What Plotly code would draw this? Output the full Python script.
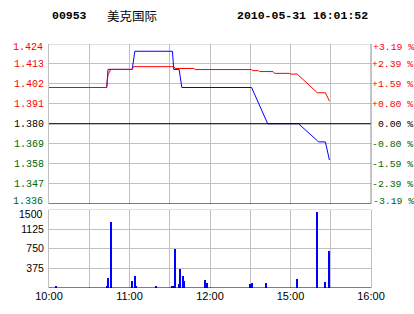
import plotly.graph_objects as go

# ---- data ----
price_ticks = [1.424, 1.413, 1.402, 1.391, 1.380, 1.369, 1.358, 1.347, 1.336]
prev_close = 1.380
pct_labels = ["+3.19 %", "+2.39 %", "+1.59 %", "+0.80 %", "\u00a00.00 %",
              "-0.80 %", "-1.59 %", "-2.39 %", "-3.19 %"]

# minutes after 10:00 (trading-time axis; 12:30 joins 14:30)
time_tickvals = [0, 30, 60, 90, 120, 150, 180, 210, 240]
time_ticktext = ["10:00", "", "11:00", "", "12:00", "", "15:00", "", "16:00"]

price_t = [0, 43, 44, 62, 64, 92, 93, 97, 99, 151, 163, 186, 201, 206, 209]
price_v = [1.400, 1.400, 1.410, 1.410, 1.420, 1.420, 1.410, 1.410, 1.400,
           1.400, 1.380, 1.380, 1.370, 1.370, 1.360]

avg_t = [0, 43, 44, 46, 62, 63, 93, 94, 108, 109, 151, 152, 156, 157, 167,
         168, 179, 180, 185, 200, 206, 209]
avg_v = [1.400, 1.400, 1.407, 1.410, 1.410, 1.4115, 1.4115, 1.4105, 1.4105,
         1.4099, 1.4099, 1.4093, 1.4093, 1.4088, 1.4088, 1.4078, 1.4078,
         1.4074, 1.4074, 1.3971, 1.3971, 1.3925]

vol_t = [5, 43, 44, 46, 62, 64, 65, 80, 92, 93, 94, 97, 98, 100, 101, 116,
         118, 150, 151, 162, 185, 200, 206, 209]
vol_v = [57, 57, 210, 1263, 134, 230, 57, 57, 57, 57, 753, 77, 364, 230, 134,
         153, 96, 77, 96, 96, 191, 1461, 115, 708]
vol_ticks = [375, 750, 1125, 1500]

code = "00953"
name = "美克国际"
stamp = "2010-05-31 16:01:52"

# ---- styling ----
RED = "#FF0000"
GREEN = "#006600"
GRID = "#C0C0C0"
MONO = "Liberation Mono"
SANS = "Liberation Sans"


def col_for(p):
    if p > prev_close + 1e-9:
        return RED
    if p < prev_close - 1e-9:
        return GREEN
    return "#000000"


p_lo, p_hi = min(price_ticks), max(price_ticks)
v_hi = max(vol_ticks)

# edge labels are drawn as annotations (nudged inward like the original)
left_text = ['' if p in (p_lo, p_hi) else
             '<span style="color:%s">%.3f</span>' % (col_for(p), p) for p in price_ticks]
right_text = ['' if p in (p_lo, p_hi) else
              '<span style="color:%s">%s</span>' % (col_for(p), s)
              for p, s in zip(price_ticks, pct_labels)]
vol_text = ['' if v == v_hi else str(v) for v in vol_ticks]

fig = go.Figure()

fig.add_trace(go.Bar(x=vol_t, y=vol_v, width=0.8, xaxis="x", yaxis="y",
                     marker=dict(color="#0000FF", line=dict(width=0)),
                     showlegend=False))
fig.add_trace(go.Scatter(x=price_t, y=price_v, mode="lines", xaxis="x2", yaxis="y2",
                         line=dict(color="#0000FF", width=1), showlegend=False))
fig.add_trace(go.Scatter(x=avg_t, y=avg_v, mode="lines", xaxis="x2", yaxis="y2",
                         line=dict(color=RED, width=1), showlegend=False))
# invisible trace to activate right axis
fig.add_trace(go.Scatter(x=[0], y=[prev_close], mode="markers", xaxis="x2", yaxis="y3",
                         marker=dict(opacity=0), showlegend=False, hoverinfo="skip"))

xcommon = dict(range=[0, 240], tickvals=time_tickvals, showgrid=True, gridcolor=GRID,
               gridwidth=1, zeroline=False, showline=False,
               ticks="", fixedrange=True, automargin=False)

fig.update_layout(
    template="none",
    width=414, height=314,
    margin=dict(l=49, r=43, t=44, b=26, pad=0),
    paper_bgcolor="white", plot_bgcolor="white",
    bargap=0,
    xaxis=dict(domain=[0, 1], anchor="y", ticktext=time_ticktext,
               tickfont=dict(family=SANS, size=11, color="black"), **xcommon),
    xaxis2=dict(domain=[0, 1], anchor="y2", showticklabels=False, matches="x", **xcommon),
    yaxis=dict(domain=[0, 0.3217], range=[0, 1500], tickvals=vol_ticks, ticktext=vol_text,
               showgrid=True, gridcolor=GRID, zeroline=False, showline=True,
               linecolor=GRID, mirror=True, ticks="", automargin=False,
               ticklabelstandoff=2,
               tickfont=dict(family=SANS, size=10.5, color="black")),
    yaxis2=dict(domain=[0.3463, 1], range=[1.336, 1.424], tickvals=price_ticks,
                ticktext=left_text, showgrid=True, gridcolor=GRID, zeroline=False,
                showline=True, linecolor=GRID, mirror=True, ticks="", automargin=False,
                ticklabelstandoff=2,
                tickfont=dict(family=MONO, size=10, color="black")),
    yaxis3=dict(overlaying="y2", side="right", range=[1.336, 1.424], tickvals=price_ticks,
                ticktext=right_text, showgrid=False, zeroline=False, showline=False,
                ticks="", anchor="x2", automargin=False,
                tickfont=dict(family=MONO, size=9.8, color="black")),
)

# frame / reference lines
fig.add_shape(type="line", xref="x2", yref="y2", x0=0, x1=240, y0=p_hi, y1=p_hi,
              line=dict(color=GRID, width=1))
fig.add_shape(type="line", xref="x", yref="y", x0=0, x1=240, y0=v_hi, y1=v_hi,
              line=dict(color=GRID, width=1))
fig.add_shape(type="line", xref="x2", yref="y2", x0=0, x1=240, y0=prev_close, y1=prev_close,
              line=dict(color="black", width=1))
fig.add_shape(type="line", xref="x2", yref="y2", x0=0, x1=240, y0=p_lo, y1=p_lo,
              line=dict(color="black", width=1.2))
fig.add_shape(type="line", xref="x", yref="y", x0=0, x1=240, y0=0, y1=0,
              line=dict(color="black", width=1.2))
fig.add_shape(type="line", xref="x2", yref="y2", x0=240, x1=240, y0=p_lo, y1=p_hi,
              line=dict(color="#909090", width=1))

# edge tick labels
for p, s, dy in [(p_hi, pct_labels[0], -3.5), (p_lo, pct_labels[-1], 2.5)]:
    fig.add_annotation(xref="paper", yref="y2", x=0, y=p, xanchor="right", yanchor="middle",
                       xshift=-4, yshift=dy, showarrow=False, text="%.3f" % p,
                       font=dict(family=MONO, size=10, color=col_for(p)))
    fig.add_annotation(xref="paper", yref="y2", x=1, y=p, xanchor="left", yanchor="middle",
                       xshift=0, yshift=dy, showarrow=False, text=s,
                       font=dict(family=MONO, size=9.8, color=col_for(p)))
fig.add_annotation(xref="paper", yref="y", x=0, y=v_hi, xanchor="right", yanchor="middle",
                   xshift=-4, yshift=-4, showarrow=False, text=str(v_hi),
                   font=dict(family=SANS, size=10.5, color="black"))

fig.add_annotation(xref="paper", yref="paper", x=0.003, y=1.1148, xanchor="left",
                   yanchor="middle", showarrow=False, text="<b>%s</b>" % code,
                   font=dict(family=MONO, size=11.5, color="black"))
fig.add_annotation(xref="paper", yref="paper", x=0.174, y=1.1148, xanchor="left",
                   yanchor="middle", showarrow=False, text=name,
                   font=dict(family="Noto Sans CJK SC", size=12.5, color="black"))
fig.add_annotation(xref="paper", yref="paper", x=0.9969, y=1.1148, xanchor="right",
                   yanchor="middle", showarrow=False, text="<b>%s</b>" % stamp,
                   font=dict(family=MONO, size=11.5, color="black"))

fig.write_html("out.html")
